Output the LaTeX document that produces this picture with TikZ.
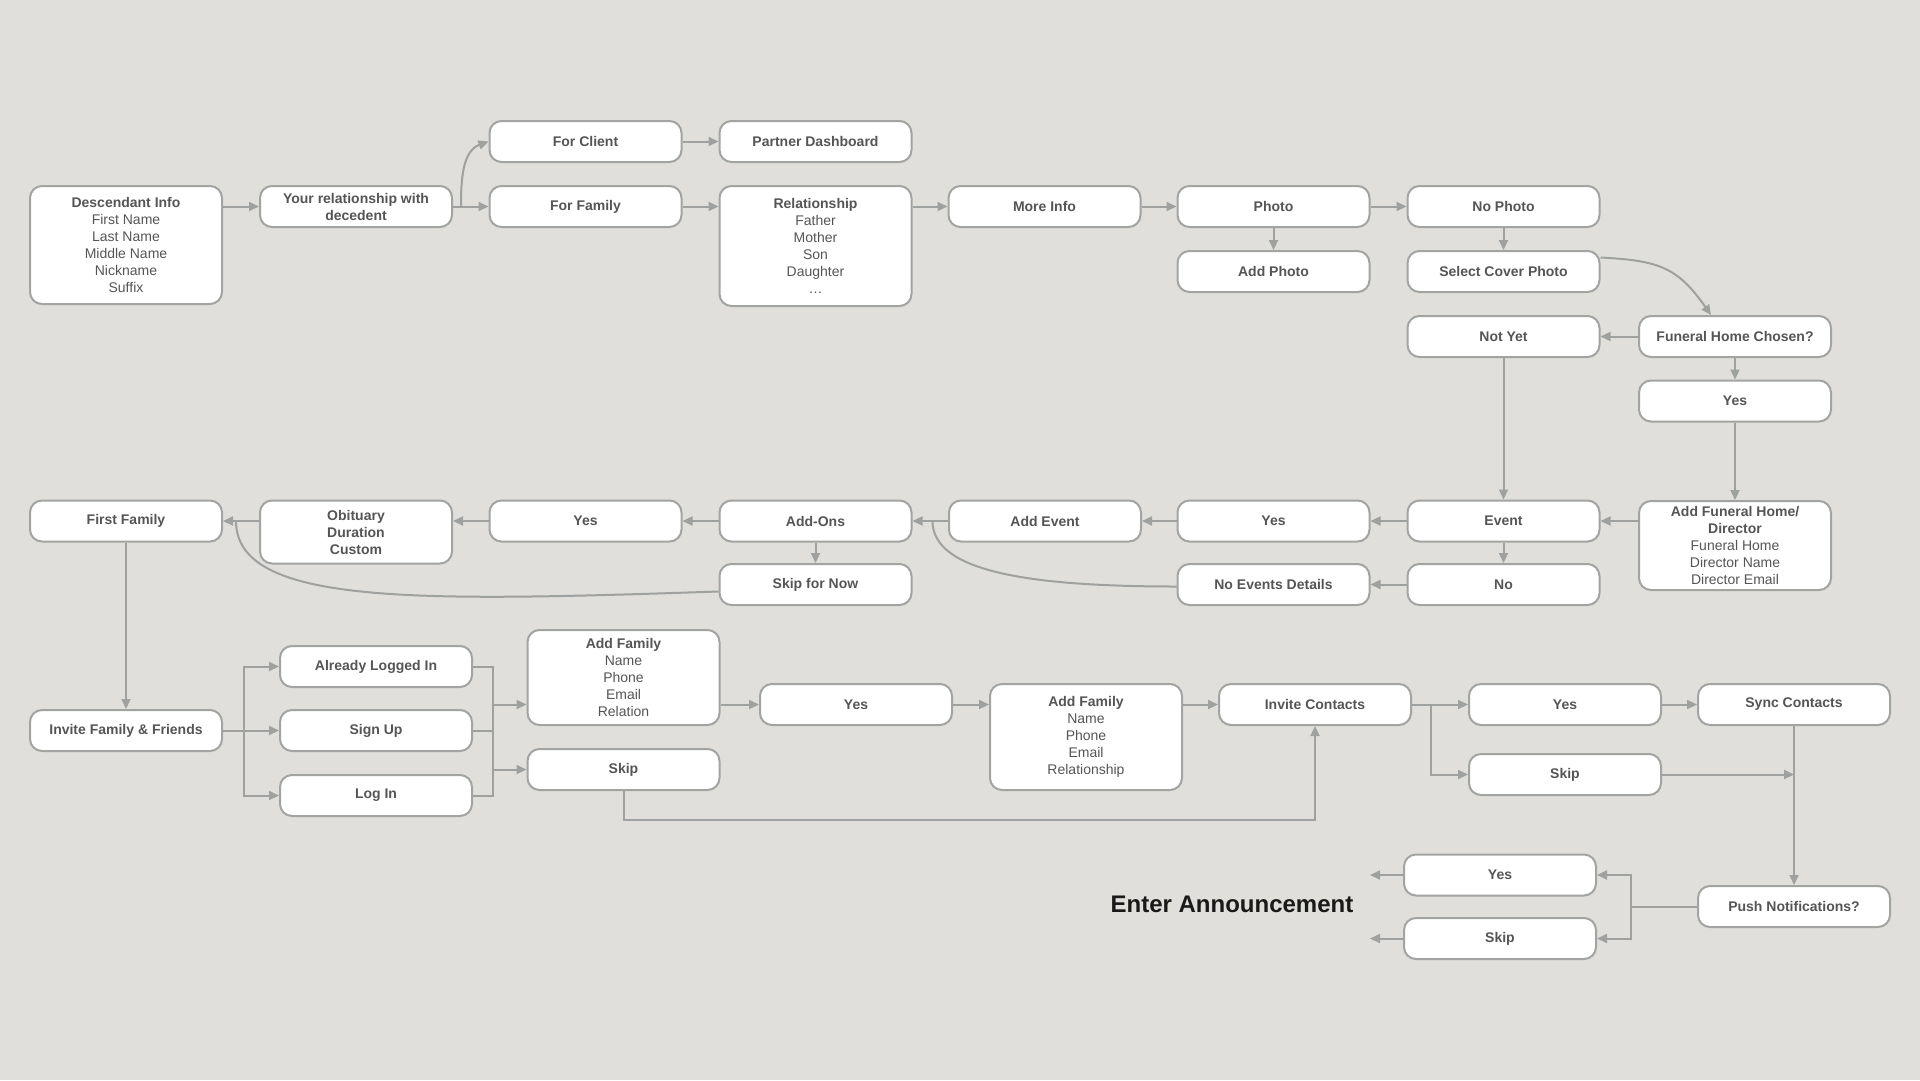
\documentclass[tikz,border=0pt]{standalone}
\usepackage{fontspec}
\setmainfont{Liberation Sans}
\usetikzlibrary{arrows.meta,calc}
\definecolor{bg}{RGB}{224,223,219}
\definecolor{boxc}{RGB}{162,164,162}
\definecolor{linec}{RGB}{158,161,159}
\definecolor{txt}{RGB}{85,85,85}
\definecolor{anntxt}{RGB}{25,25,25}
\begin{document}
\begin{tikzpicture}[x=1pt,y=-1pt,
  box/.style={draw=boxc, line width=2pt, fill=white, rounded corners=12pt,
    minimum width=192pt, minimum height=41pt, align=center, inner sep=2pt,
    text=txt, font=\fontsize{14}{17}\selectfont\bfseries},
  ln/.style={draw=linec, line width=2pt},
  arr/.style={draw=linec, line width=2pt, -{Triangle[length=10pt,width=9pt]}}]
\fill[bg] (0,0) rectangle (1920,1080);
\useasboundingbox (0,0) rectangle (1920,1080);

% row 1-2
\node[box, minimum height=118pt] (desc) at (126,245) {Descendant Info\\\textmd{First Name}\\\textmd{Last Name}\\\textmd{Middle Name}\\\textmd{Nickname}\\\textmd{Suffix}};
\node[box] (yr) at (356,206.5) {Your relationship with\\decedent};
\node[box] (fc) at (585.5,141.5) {For Client};
\node[box] (pd) at (815.5,141.5) {Partner Dashboard};
\node[box] (ffam) at (585.5,206.5) {For Family};
\node[box, minimum height=120pt] (rel) at (815.5,246) {Relationship\\\textmd{Father}\\\textmd{Mother}\\\textmd{Son}\\\textmd{Daughter}\\\textmd{…}};
\node[box] (mi) at (1044.5,206.5) {More Info};
\node[box] (photo) at (1273.5,206.5) {Photo};
\node[box] (nophoto) at (1503.5,206.5) {No Photo};
\node[box] (addphoto) at (1273.5,271.5) {Add Photo};
\node[box] (scp) at (1503.5,271.5) {Select Cover Photo};
\node[box] (notyet) at (1503.5,336.5) {Not Yet};
\node[box] (fhc) at (1735,336.5) {Funeral Home Chosen?};
\node[box] (yesf) at (1735,401) {Yes};
\node[box, minimum height=89pt] (afh) at (1735,545.5) {Add Funeral Home/\\Director\\\textmd{Funeral Home}\\\textmd{Director Name}\\\textmd{Director Email}};

% row 6-7
\node[box] (event) at (1503.5,521) {Event};
\node[box] (yese) at (1273.5,521) {Yes};
\node[box] (addev) at (1045,521) {Add Event};
\node[box] (addons) at (815.5,521) {Add-Ons};
\node[box] (yesa) at (585.5,521) {Yes};
\node[box, minimum height=63pt] (obit) at (356,532) {Obituary\\Duration\\Custom};
\node[box] (first) at (126,521) {First Family};
\node[box] (no) at (1503.5,584.5) {No};
\node[box] (ned) at (1273.5,584.5) {No Events Details};
\node[box] (sfn) at (815.5,584.5) {Skip for Now};

% row 8+
\node[box] (iff) at (126,730.5) {Invite Family \& Friends};
\node[box] (ali) at (376,666.5) {Already Logged In};
\node[box] (signup) at (376,730.5) {Sign Up};
\node[box] (login) at (376,795.5) {Log In};
\node[box, minimum height=95pt] (af1) at (623.5,677.5) {Add Family\\\textmd{Name}\\\textmd{Phone}\\\textmd{Email}\\\textmd{Relation}};
\node[box] (skip1) at (623.5,769.5) {Skip};
\node[box] (yes8) at (856,704.5) {Yes};
\node[box, minimum height=106pt] (af2) at (1086,737) {Add Family\\\textmd{Name}\\\textmd{Phone}\\\textmd{Email}\\\textmd{Relationship}};
\node[box] (ic) at (1315,704.5) {Invite Contacts};
\node[box] (yesr) at (1565,704.5) {Yes};
\node[box] (sync) at (1794,704.5) {Sync Contacts};
\node[box] (skip2) at (1565,774.5) {Skip};
\node[box] (push) at (1794,906.5) {Push Notifications?};
\node[box] (yes4) at (1500,875) {Yes};
\node[box] (skip3) at (1500,938.5) {Skip};
\node[font=\fontsize{24}{28}\selectfont\bfseries, text=anntxt] (ann) at (1232,904) {Enter Announcement};

% connectors top
\draw[arr] (desc.east |- yr.west) -- (yr.west);
\draw[arr] (yr.east) -- (ffam.west);
\draw[arr] ([xshift=8pt]yr.east) to[out=90,in=200] (fc.west);
\draw[arr] (fc.east) -- (pd.west);
\draw[arr] (ffam.east) -- (rel.west |- ffam.east);
\draw[arr] (rel.east |- mi.west) -- (mi.west);
\draw[arr] (mi.east) -- (photo.west);
\draw[arr] (photo.east) -- (nophoto.west);
\draw[arr] (photo.south) -- (addphoto.north);
\draw[arr] (nophoto.south) -- (scp.north);
\draw[arr] ([yshift=14pt]scp.east) to[out=-3,in=125,looseness=1.2] ([xshift=-24pt]fhc.north);
\draw[arr] (fhc.west) -- (notyet.east);
\draw[arr] (fhc.south) -- (yesf.north);
\draw[arr] (notyet.south) -- (event.north);
\draw[arr] (yesf.south) -- (afh.north);
\draw[arr] (afh.west |- event.east) -- (event.east);

% middle rows
\draw[arr] (event.west) -- (yese.east);
\draw[arr] (event.south) -- (no.north);
\draw[arr] (no.west) -- (ned.east);
\draw[arr] (yese.west) -- (addev.east);
\draw[arr] (addev.west) -- (addons.east);
\coordinate (j1) at ($(addons.east)+(20,0)$);
\draw[ln] ([yshift=-2pt]ned.west) .. controls +(-150,0) and +(0,50) .. (j1);
\draw[arr] (addons.west) -- (yesa.east);
\draw[arr] (addons.south) -- (sfn.north);
\draw[arr] (yesa.west) -- (obit.east |- yesa.west);
\draw[arr] (obit.west |- first.east) -- (first.east);
\coordinate (j2) at ($(first.east)+(13,0)$);
\draw[ln] ([yshift=-7pt]sfn.west) .. controls +(-300,10) and +(0,85) .. (j2);

% lower section
\draw[arr] (first.south) -- (iff.north);
\coordinate (b1) at ($(iff.east)+(21,0)$);
\draw[ln] (iff.east) -- (b1);
\draw[arr] (b1) |- (ali.west);
\draw[arr] (b1) |- (login.west);
\draw[arr] (b1) -- (signup.west);
\coordinate (m1) at ($(ali.east)+(20,0)$);
\draw[ln] (ali.east) -- (m1) -- (m1 |- login.east) -- (login.east);
\draw[ln] (signup.east) -- (signup.east -| m1);
\draw[arr] (m1 |- yes8.west) -- (af1.west |- yes8.west);
\draw[arr] (m1 |- skip1.west) -- (skip1.west);
\draw[arr] (af1.east |- yes8.west) -- (yes8.west);
\draw[arr] (yes8.east) -- (af2.west |- yes8.east);
\draw[arr] (af2.east |- ic.west) -- (ic.west);
\coordinate (s1) at ($(skip1.south)+(0,29)$);
\draw[arr] (skip1.south) -- (s1) -| (ic.south);
\draw[arr] (ic.east) -- (yesr.west);
\coordinate (b2) at ($(ic.east)+(19,0)$);
\draw[arr] (b2) |- (skip2.west);
\draw[arr] (yesr.east) -- (sync.west);
\draw[arr] (skip2.east) -- (skip2.east -| sync.south);
\draw[arr] (sync.south) -- (push.north);
\coordinate (b3) at ($(push.west)+(-66,0)$);
\draw[ln] (push.west) -- (b3);
\draw[arr] (b3) |- (yes4.east);
\draw[arr] (b3) |- (skip3.east);
\coordinate (e1) at ($(yes4.west)+(-33,0)$);
\coordinate (e2) at ($(skip3.west)+(-33,0)$);
\draw[arr] (yes4.west) -- (e1);
\draw[arr] (skip3.west) -- (e2);
\end{tikzpicture}
\end{document}
